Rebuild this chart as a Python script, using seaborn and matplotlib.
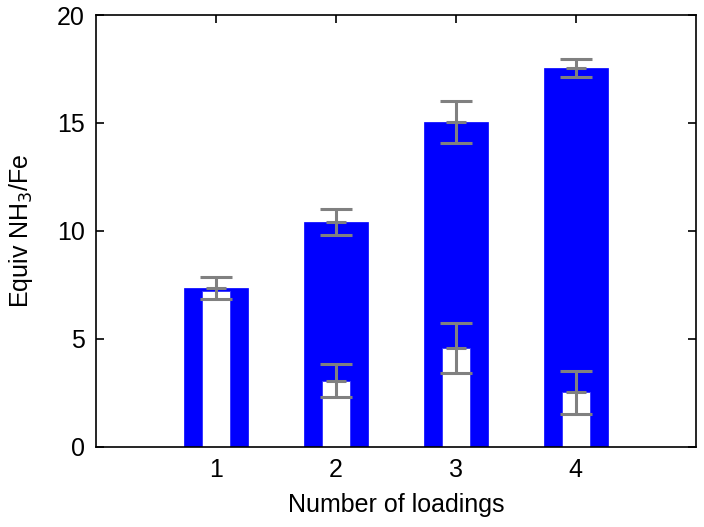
import numpy as np
import pandas as pd
import matplotlib
matplotlib.use('Agg')
import matplotlib.pyplot as plt
import seaborn as sns

# values
loadings = [1, 2, 3, 4]
total_nh3 = [7.33, 10.43, 15.04, 17.56]
total_err = [0.51, 0.60, 0.99, 0.41]
retained_nh3 = [7.23, 3.06, 4.57, 2.52]
retained_err = [np.nan, 0.78, 1.17, 1.00]

sns.set_style('white')
plt.rcParams['font.family'] = ['Liberation Sans', 'DejaVu Sans']
plt.rcParams['text.color'] = 'black'
plt.rcParams['axes.labelcolor'] = 'black'
plt.rcParams['xtick.color'] = 'black'
plt.rcParams['ytick.color'] = 'black'

df = pd.DataFrame({'loading': loadings, 'total': total_nh3, 'retained': retained_nh3})

fig = plt.figure(figsize=(7.04, 5.27), dpi=100)
ax = fig.add_axes([0.1364, 0.1524, 0.8518, 0.8191])

sns.barplot(data=df, x='loading', y='total', native_scale=True, width=0.53,
            color='#0000ff', saturation=1, edgecolor='#0000ff', linewidth=0.5, ax=ax)
sns.barplot(data=df, x='loading', y='retained', native_scale=True, width=0.23,
            color='white', saturation=1, edgecolor='#3030ff', linewidth=0.6, ax=ax)

grey = '#808080'
for vals, errs in [(total_nh3, total_err), (retained_nh3, retained_err)]:
    ax.errorbar(loadings, vals, yerr=errs, fmt='none', ecolor=grey,
                elinewidth=2.2, capsize=11.5, capthick=2.2, zorder=5)
    mask = ~np.isnan(np.array(errs, dtype=float))
    ax.plot(np.array(loadings)[mask], np.array(vals)[mask], linestyle='none',
            marker='_', markersize=14, markeredgewidth=2.2, color=grey, zorder=6)

ax.set_xlim(0, 5)
ax.set_ylim(0, 20)
ax.set_xticks(loadings)
ax.set_yticks([0, 5, 10, 15, 20])
ax.set_xlabel('Number of loadings', fontsize=18, labelpad=8)
ax.set_ylabel('Equiv NH$_3$/Fe', fontsize=18, labelpad=16)
ax.tick_params(direction='in', length=6, width=1.2, labelsize=18,
               top=True, right=True, bottom=True, left=True, pad=8)
for s in ax.spines.values():
    s.set_visible(True)
    s.set_color('black')
    s.set_linewidth(1.2)

fig.savefig('out.png', dpi=100)
